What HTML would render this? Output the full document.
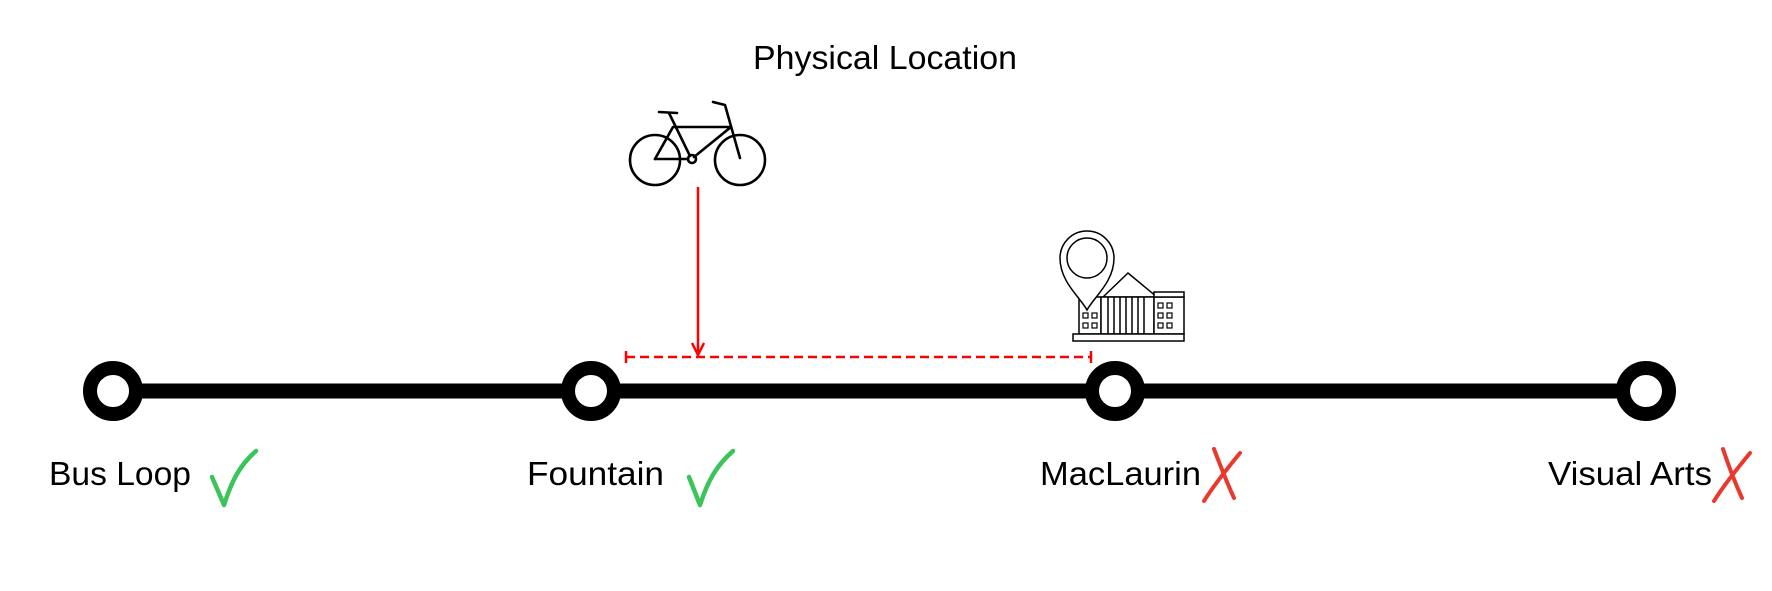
<!DOCTYPE html>
<html><head><style>
html,body{margin:0;padding:0;background:#fff;}
svg{display:block;}
text{font-family:"Liberation Sans",sans-serif;fill:#000;}
</style></head><body>
<svg width="1772" height="591" viewBox="0 0 1772 591" xmlns="http://www.w3.org/2000/svg">
<text x="753" y="69" font-size="33" textLength="264" lengthAdjust="spacingAndGlyphs">Physical Location</text>
<!-- bike -->
<g fill="none" stroke="#000" stroke-width="2.6" stroke-linecap="round" stroke-linejoin="round">
<circle cx="655" cy="160" r="25"/>
<circle cx="740" cy="160" r="25"/>
<circle cx="692" cy="159" r="4"/>
<path d="M655 159 L673 127 L731 127 L694 157"/>
<path d="M655 159 L688 159"/>
<path d="M669 113 L690 156"/>
<path d="M659 112 L677 113"/>
<path d="M713 102 L725 105 L740 158"/>
</g>
<!-- red arrow -->
<line x1="698" y1="187" x2="698" y2="354" stroke="#f00" stroke-width="2.5"/>
<path d="M692 343 L698 355 L704 343" fill="none" stroke="#f00" stroke-width="2.5"/>
<line x1="626" y1="357" x2="1091" y2="357" stroke="#f00" stroke-width="2.5" stroke-dasharray="9,5"/>
<line x1="626" y1="351" x2="626" y2="363" stroke="#f00" stroke-width="2.5"/>
<line x1="1091" y1="351" x2="1091" y2="363" stroke="#f00" stroke-width="2.5"/>
<!-- building -->
<g fill="#fff" stroke="#000" stroke-width="1.5">
<path d="M1103 297 L1128 273 L1157 297 Z"/>
<rect x="1079" y="297" width="22" height="37"/>
<rect x="1101" y="297" width="53" height="37"/>
<rect x="1154" y="297" width="30" height="37"/>
<rect x="1154" y="292" width="30" height="5"/>
<rect x="1073" y="334" width="111" height="7"/>
<path d="M1108 297V334M1114 297V334M1120 297V334M1126 297V334M1132 297V334M1138 297V334M1144 297V334"/>
<g stroke-width="1.2">
<rect x="1083" y="313" width="5" height="5"/><rect x="1092" y="313" width="5" height="5"/>
<rect x="1083" y="323" width="5" height="5"/><rect x="1092" y="323" width="5" height="5"/>
<rect x="1158" y="303" width="5" height="5"/><rect x="1167" y="303" width="5" height="5"/>
<rect x="1158" y="313" width="5" height="5"/><rect x="1167" y="313" width="5" height="5"/>
<rect x="1158" y="323" width="5" height="5"/><rect x="1167" y="323" width="5" height="5"/>
</g>
<path d="M1087 310 C1080 297 1060 282 1060 258 A27 27 0 0 1 1114 258 C1114 282 1094 297 1087 310 Z"/>
<circle cx="1087" cy="258" r="20"/>
</g>
<!-- track -->
<line x1="113" y1="391" x2="1646" y2="391" stroke="#000" stroke-width="15"/>
<g fill="#fff" stroke="#000" stroke-width="14">
<circle cx="113" cy="391" r="23"/>
<circle cx="591" cy="391" r="23"/>
<circle cx="1115" cy="391" r="23"/>
<circle cx="1646" cy="391" r="23"/>
</g>
<!-- labels -->
<g font-size="33">
<text x="49" y="485" textLength="142" lengthAdjust="spacingAndGlyphs">Bus Loop</text>
<text x="527" y="485" textLength="137" lengthAdjust="spacingAndGlyphs">Fountain</text>
<text x="1040" y="485" textLength="161" lengthAdjust="spacingAndGlyphs">MacLaurin</text>
<text x="1548" y="485" textLength="164" lengthAdjust="spacingAndGlyphs">Visual Arts</text>
</g>
<g fill="none" stroke="#3cc35a" stroke-width="4.5" stroke-linecap="round" stroke-linejoin="round">
<path d="M212 477 L224 505 C232 480 240 465 256 451"/>
<path d="M689 477 L700 505 C708 480 717 465 733 451"/>
</g>
<g fill="none" stroke="#e8392c" stroke-width="4" stroke-linecap="round">
<path d="M1214 449 C1222 470 1228 485 1234 498"/>
<path d="M1240 453 C1226 470 1214 485 1204 501"/>
<path d="M1723 449 C1730 470 1736 485 1742 498"/>
<path d="M1750 453 C1736 470 1724 485 1714 501"/>
</g>
</svg>
</body></html>
